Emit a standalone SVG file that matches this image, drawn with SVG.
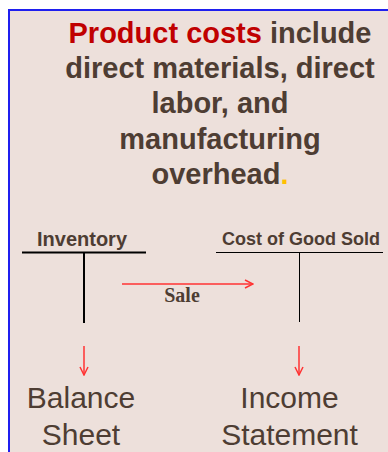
<svg xmlns="http://www.w3.org/2000/svg" width="388" height="452" viewBox="0 0 388 452">
<style>
.brown{fill:#4E3D33;font-family:"Liberation Sans",Arial,sans-serif}
.title{font-size:29px;font-weight:bold;text-anchor:middle}
.lbl{font-size:18px;font-weight:bold;text-anchor:middle}
.big{font-size:30px;text-anchor:middle}
.arrow{stroke:#FF3333;stroke-width:1.5;fill:none}
</style>
<defs>
<marker id="head" viewBox="0 0 10 10" refX="9" refY="5" markerWidth="10" markerHeight="10" markerUnits="userSpaceOnUse" orient="auto">
<path d="M1,1 L9,5 L1,9" fill="none" stroke="#FF3333" stroke-width="1.5"/>
</marker>
</defs>
<rect x="0" y="0" width="388" height="452" fill="#FFFFFF"/>
<rect x="9" y="10" width="600" height="600" fill="#EDE0DB" stroke="#1F1FEF" stroke-width="2"/>
<g id="title">
<text class="brown title" x="220" y="43"><tspan fill="#C00000">Product costs</tspan> include</text>
<text class="brown title" x="220" y="78">direct materials, direct</text>
<text class="brown title" x="220" y="113">labor, and</text>
<text class="brown title" x="220" y="148.5">manufacturing</text>
<text class="brown title" x="220" y="184">overhead<tspan fill="#FFC000">.</tspan></text>
</g>
<g id="inventory">
<text class="brown lbl" x="82" y="246" style="font-size:20px">Inventory</text>
<line x1="22" y1="252.5" x2="146" y2="252.5" stroke="#000" stroke-width="2"/>
<line x1="84" y1="252" x2="84" y2="323" stroke="#000" stroke-width="2"/>
</g>
<g id="cogs">
<text class="brown lbl" x="301" y="245">Cost of Good Sold</text>
<line x1="216" y1="252.5" x2="383" y2="252.5" stroke="#000" stroke-width="1"/>
<line x1="299.5" y1="252" x2="299.5" y2="322" stroke="#000" stroke-width="1"/>
</g>
<g id="balance">
<text class="brown big" x="81" y="408">Balance</text>
<text class="brown big" x="81" y="445">Sheet</text>
</g>
<g id="income">
<text class="brown big" x="289.5" y="408">Income</text>
<text class="brown big" x="289.5" y="445">Statement</text>
</g>
<g id="connectors">
<line class="arrow" x1="122" y1="284" x2="253" y2="284" marker-end="url(#head)"/>
<text x="182" y="302" fill="#4E3D33" font-family="'Liberation Serif','Times New Roman',serif" font-size="20" font-weight="bold" text-anchor="middle">Sale</text>
<line class="arrow" x1="84" y1="346" x2="84" y2="375" marker-end="url(#head)"/>
<line class="arrow" x1="299" y1="346" x2="299" y2="375" marker-end="url(#head)"/>
</g>
</svg>
